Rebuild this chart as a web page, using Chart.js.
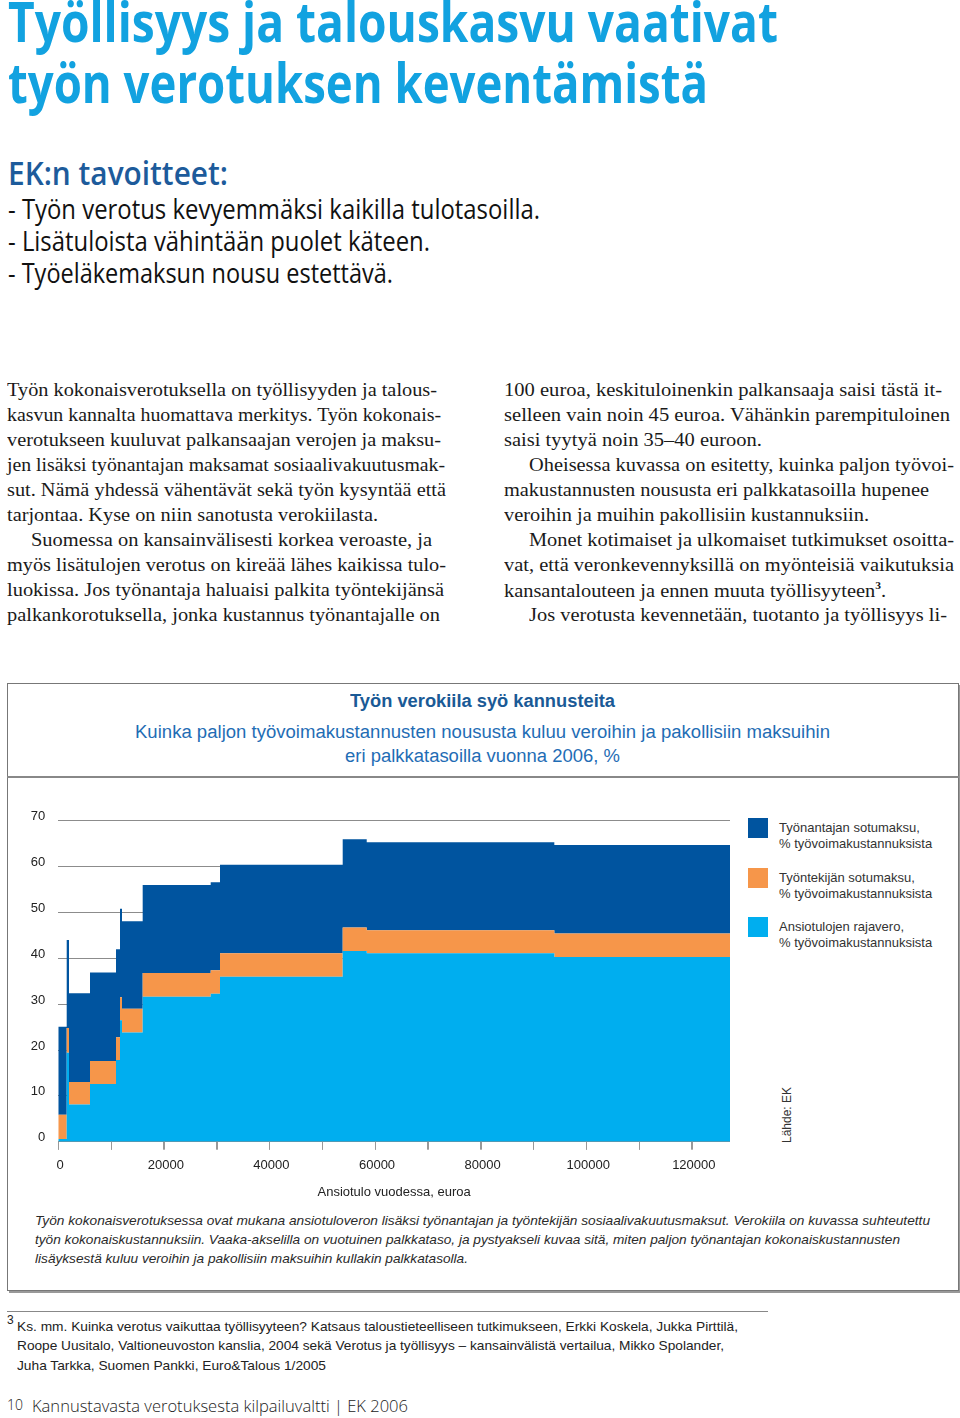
<!DOCTYPE html>
<html lang="fi">
<head>
<meta charset="utf-8">
<title>Työn verokiila syö kannusteita</title>
<script src="https://cdn.jsdelivr.net/npm/chart.js@4.4.1/dist/chart.umd.min.js"></script>
<style>
    html, body { margin: 0; padding: 0; background: #fff; }
    body { width: 960px; height: 1418px; position: relative; overflow: hidden; font-family: "Liberation Sans", Arial, sans-serif; color: #222; }
    .t { position: absolute; white-space: nowrap; line-height: 1; transform-origin: 0 50%; }
    .head { font-family: "Open Sans", sans-serif; font-weight: 700; font-size: 55px; color: #12a2e0; }
    .goal { font-family: "Open Sans", sans-serif; font-weight: 600; font-size: 32px; color: #1d5b9b; }
    .bullet { font-family: "Open Sans", sans-serif; font-size: 28px; color: #111; }
    .body { font-family: "Liberation Serif", "Times New Roman", serif; font-size: 19.5px; color: #1a1a1a; }
    .ctitle { font-size: 18px; font-weight: bold; color: #1a5a96; }
    .csub { font-size: 18px; color: #1f6db5; }
    .cap { font-size: 13.5px; font-style: italic; color: #2a2a2a; }
    .foot { font-size: 13.5px; color: #222; }
    .page { font-family: "Open Sans", sans-serif; font-weight: 300; font-size: 17px; color: #222; }
    .box { position: absolute; left: 7px; top: 683px; width: 950px; height: 606px; border: 1px solid #777; box-shadow: 2px 2px 0 #999; }
    .divider { position: absolute; left: 7px; top: 776px; width: 952px; height: 2px; background: #888; }
    .rule { position: absolute; left: 7px; top: 1311px; width: 761px; height: 1px; background: #888; }
    #chart { position: absolute; left: 0; top: 800px; }
    .lg-box { position: absolute; left: 748px; width: 20px; height: 20px; }
    .lg-text { position: absolute; left: 779px; font-size: 13px; line-height: 16px; color: #333; white-space: nowrap; }
    .source { position: absolute; left: 787px; top: 1115px; font-size: 12px; color: #333; white-space: nowrap; transform: translate(-50%, -50%) rotate(-90deg); }
</style>
</head>
<body>

<div class="t head" style="left:8px; top:-7px" data-w="770">Työllisyys ja talouskasvu vaativat</div>
<div class="t head" style="left:8px; top:54px" data-w="700">työn verotuksen keventämistä</div>

<div class="t goal" style="left:8px; top:157px" data-w="220">EK:n tavoitteet:</div>
<div class="t bullet" style="left:8px; top:194px" data-w="532">- Työn verotus kevyemmäksi kaikilla tulotasoilla.</div>
<div class="t bullet" style="left:8px; top:226px" data-w="422">- Lisätuloista vähintään puolet käteen.</div>
<div class="t bullet" style="left:8px; top:258px" data-w="385">- Työeläkemaksun nousu estettävä.</div>

<div class="t body" style="left:7px; top:380px" data-w="430">Työn kokonaisverotuksella on työllisyyden ja talous-</div>
<div class="t body" style="left:7px; top:405px" data-w="434">kasvun kannalta huomattava merkitys. Työn kokonais-</div>
<div class="t body" style="left:7px; top:430px" data-w="434">verotukseen kuuluvat palkansaajan verojen ja maksu-</div>
<div class="t body" style="left:7px; top:455px" data-w="438">jen lisäksi työnantajan maksamat sosiaalivakuutusmak-</div>
<div class="t body" style="left:7px; top:480px" data-w="439">sut. Nämä yhdessä vähentävät sekä työn kysyntää että</div>
<div class="t body" style="left:7px; top:505px" data-w="371">tarjontaa. Kyse on niin sanotusta verokiilasta.</div>
<div class="t body" style="left:31px; top:530px" data-w="401">Suomessa on kansainvälisesti korkea veroaste, ja</div>
<div class="t body" style="left:7px; top:555px" data-w="439">myös lisätulojen verotus on kireää lähes kaikissa tulo-</div>
<div class="t body" style="left:7px; top:580px" data-w="437">luokissa. Jos työnantaja haluaisi palkita työntekijänsä</div>
<div class="t body" style="left:7px; top:605px" data-w="433">palkankorotuksella, jonka kustannus työnantajalle on</div>

<div class="t body" style="left:504px; top:380px" data-w="438">100 euroa, keskituloinenkin palkansaaja saisi tästä it-</div>
<div class="t body" style="left:504px; top:405px" data-w="446">selleen vain noin 45 euroa. Vähänkin parempituloinen</div>
<div class="t body" style="left:504px; top:430px" data-w="258">saisi tyytyä noin 35–40 euroon.</div>
<div class="t body" style="left:529px; top:455px" data-w="425">Oheisessa kuvassa on esitetty, kuinka paljon työvoi-</div>
<div class="t body" style="left:504px; top:480px" data-w="425">makustannusten noususta eri palkkatasoilla hupenee</div>
<div class="t body" style="left:504px; top:505px" data-w="365">veroihin ja muihin pakollisiin kustannuksiin.</div>
<div class="t body" style="left:529px; top:530px" data-w="425">Monet kotimaiset ja ulkomaiset tutkimukset osoitta-</div>
<div class="t body" style="left:504px; top:555px" data-w="450">vat, että veronkevennyksillä on myönteisiä vaikutuksia</div>
<div class="t body" style="left:504px; top:580px" data-w="382">kansantalouteen ja ennen muuta työllisyyteen<sup style="font-size:11px; font-weight:bold">3</sup>.</div>
<div class="t body" style="left:529px; top:605px" data-w="418">Jos verotusta kevennetään, tuotanto ja työllisyys li-</div>

<div class="box"></div>
<div class="divider"></div>

<div class="t ctitle" style="left:350px; top:692px" data-w="265">Työn verokiila syö kannusteita</div>
<div class="t csub" style="left:135px; top:723px" data-w="695">Kuinka paljon työvoimakustannusten noususta kuluu veroihin ja pakollisiin maksuihin</div>
<div class="t csub" style="left:345px; top:747px" data-w="275">eri palkkatasoilla vuonna 2006, %</div>

<canvas id="chart" width="745" height="410"></canvas>
<div id="legend"></div>
<div class="source">Lähde: EK</div>

<div class="t cap" style="left:35px; top:1214px" data-w="895">Työn kokonaisverotuksessa ovat mukana ansiotuloveron lisäksi työnantajan ja työntekijän sosiaalivakuutusmaksut. Verokiila on kuvassa suhteutettu</div>
<div class="t cap" style="left:35px; top:1233px" data-w="865">työn kokonaiskustannuksiin. Vaaka-akselilla on vuotuinen palkkataso, ja pystyakseli kuvaa sitä, miten paljon työnantajan kokonaiskustannusten</div>
<div class="t cap" style="left:35px; top:1252px" data-w="433">lisäyksestä kuluu veroihin ja pakollisiin maksuihin kullakin palkkatasolla.</div>

<div class="rule"></div>
<div class="t foot" style="left:7px; top:1314px; font-size:12px">3</div>
<div class="t foot" style="left:17px; top:1320px" data-w="721">Ks. mm. Kuinka verotus vaikuttaa työllisyyteen? Katsaus taloustieteelliseen tutkimukseen, Erkki Koskela, Jukka Pirttilä,</div>
<div class="t foot" style="left:17px; top:1339px" data-w="707">Roope Uusitalo, Valtioneuvoston kanslia, 2004 sekä Verotus ja työllisyys – kansainvälistä vertailua, Mikko Spolander,</div>
<div class="t foot" style="left:17px; top:1359px" data-w="309">Juha Tarkka, Suomen Pankki, Euro&amp;Talous 1/2005</div>

<div class="t page" style="left:7px; top:1398px; font-size:14px">10</div>
<div class="t page" style="left:32px; top:1397px" data-w="376">Kannustavasta verotuksesta kilpailuvaltti | EK 2006</div>

<script>
// Annual earned income (euro) where each step starts; last entry = end of the chart
const incomeSteps = [0, 1610, 2045, 6020, 10950, 11700, 12080, 16000, 28880, 30640, 53880, 58430, 93960, 127230];

// Shares of the labour cost increase, % (stacked from bottom to top)
const rajavero = [0.6, 19.4, 8.1, 12.6, 17.8, 26.5, 23.8, 31.6, 32.3, 36.0, 41.6, 41.1, 40.3, 40.3];
const tyontekijanMaksu = [5.3, 5.4, 4.9, 5.0, 5.0, 5.0, 5.2, 5.2, 5.1, 5.1, 5.1, 5.0, 5.1, 5.1];
const tyonantajanMaksu = [19.2, 19.2, 19.4, 19.3, 19.2, 19.3, 19.1, 19.2, 19.2, 19.3, 19.3, 19.2, 19.3, 19.3];

// x-axis tick marks (labels only on every second one)
const xTickValues = [0, 10000, 20000, 30000, 40000, 50000, 60000, 70000, 80000, 90000, 100000, 110000, 120000];
const xLabelValues = [0, 20000, 40000, 60000, 80000, 100000, 120000];

const seriesNames = [
    'Ansiotulojen rajavero, % työvoimakustannuksista',
    'Työntekijän sotumaksu, % työvoimakustannuksista',
    'Työnantajan sotumaksu, % työvoimakustannuksista'
];
const seriesColors = ['#00aeef', '#f6964a', '#00549f'];
const seriesValues = [rajavero, tyontekijanMaksu, tyonantajanMaksu];

// Squeeze/stretch text lines to the widths they have on the printed page
document.querySelectorAll('[data-w]').forEach(el => {
    const w = el.getBoundingClientRect().width;
    el.style.transform = 'scaleX(' + (parseFloat(el.dataset.w) / w) + ')';
});

// Legend (top item = top of the stack)
const legend = document.getElementById('legend');
[2, 1, 0].forEach((i, row) => {
    const top = 818 + row * 49.5;
    const box = document.createElement('div');
    box.className = 'lg-box';
    box.style.top = top + 'px';
    box.style.background = seriesColors[i];
    legend.appendChild(box);

    const parts = seriesNames[i].split(', ');
    const txt = document.createElement('div');
    txt.className = 'lg-text';
    txt.style.top = (top + 2) + 'px';
    txt.innerHTML = parts[0] + ',<br>' + parts[1];
    legend.appendChild(txt);
});

// small tick marks hanging under the x axis
const xTickMarks = {
    id: 'xTickMarks',
    afterDraw(chart) {
        const xs = chart.scales.x;
        const ctx = chart.ctx;
        ctx.save();
        ctx.strokeStyle = '#999';
        ctx.lineWidth = 1;
        xTickValues.forEach(v => {
            const px = Math.round(xs.getPixelForValue(v)) + 0.5;
            ctx.beginPath();
            ctx.moveTo(px, chart.chartArea.bottom);
            ctx.lineTo(px, chart.chartArea.bottom + 8);
            ctx.stroke();
        });
        ctx.restore();
    }
};

const tickFont = { family: "'Liberation Sans', Arial, sans-serif", size: 13 };

const chart = new Chart(document.getElementById('chart').getContext('2d'), {
    type: 'line',
    data: {
        datasets: seriesValues.map((vals, i) => ({
            label: seriesNames[i],
            data: incomeSteps.map((x, k) => ({ x: x, y: vals[k] })),
            backgroundColor: seriesColors[i],
            borderColor: 'rgba(0,0,0,0)',
            borderWidth: 0,
            pointRadius: 0,
            stepped: true,
            fill: i === 0 ? 'origin' : '-1'
        }))
    },
    options: {
        responsive: false,
        animation: false,
        layout: { padding: { top: 16.7, right: 15, left: 0, bottom: 0 } },
        plugins: {
            legend: { display: false },
            tooltip: { enabled: false }
        },
        scales: {
            x: {
                type: 'linear',
                min: 0,
                max: incomeSteps[incomeSteps.length - 1],
                afterBuildTicks: axis => {
                    axis.ticks = xTickValues.map(v => ({ value: v }));
                },
                afterFit: axis => { axis.height = 68.3; },
                ticks: {
                    autoSkip: false,
                    maxRotation: 0,
                    padding: 8,
                    labelOffset: 2,
                    color: '#222',
                    font: tickFont,
                    callback: v => (xLabelValues.includes(v) ? String(v) : '')
                },
                grid: { drawOnChartArea: false, tickLength: 8, color: '#999' },
                border: { display: false },
                title: {
                    display: true,
                    text: 'Ansiotulo vuodessa, euroa',
                    color: '#222',
                    font: tickFont,
                    padding: { top: 0, bottom: 10 }
                }
            },
            y: {
                stacked: true,
                min: 0,
                max: 70,
                afterFit: axis => { axis.width = 58.2; },
                ticks: {
                    stepSize: 10,
                    padding: 13,
                    labelOffset: -4,
                    color: '#222',
                    font: tickFont
                },
                grid: { color: '#8c8c8c', drawTicks: false },
                border: { display: false }
            }
        }
    },
    plugins: [xTickMarks]
});

// pin the plot area to where it sits on the printed page
const area = chart.chartArea;
chart.options.layout.padding.top += 16.7 - area.top;
chart.options.layout.padding.right += area.right - 730;
chart.update();
</script>
</body>
</html>
